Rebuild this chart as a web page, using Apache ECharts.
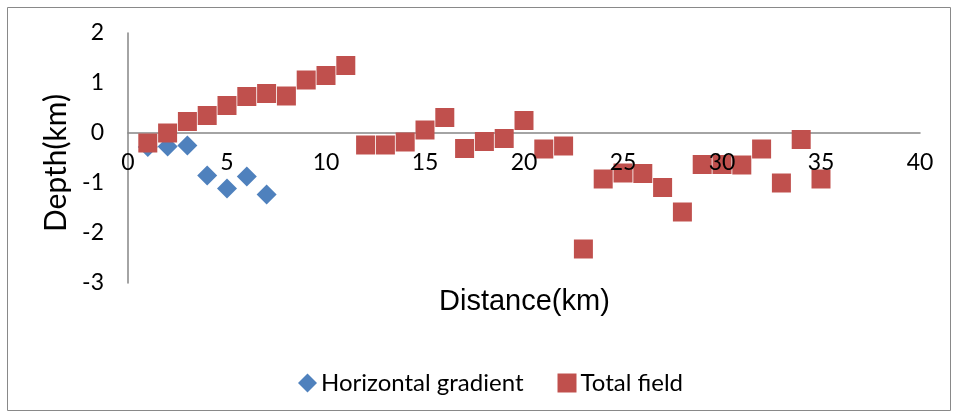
<!DOCTYPE html>
<html>
<head>
<meta charset="utf-8">
<script src="https://cdn.jsdelivr.net/npm/echarts@6/dist/echarts.min.js"></script>
<style>
  html, body { margin: 0; padding: 0; background: #fff; }
  #chart { width: 958px; height: 418px; }
</style>
</head>
<body>
<div id="chart"></div>
<script>
  // distance (km) along the profile
  const gradientDistance = [1, 2, 3, 4, 5, 6, 7];
  const gradientDepth = [-0.28, -0.27, -0.25, -0.85, -1.11, -0.87, -1.23];

  const fieldDistance = [1, 2, 3, 4, 5, 6, 7, 8, 9, 10, 11, 12, 13, 14, 15, 16, 17, 18,
    19, 20, 21, 22, 23, 24, 25, 26, 27, 28, 29, 30, 31, 32, 33, 34, 35];
  const fieldDepth = [-0.2, 0.0, 0.23, 0.35, 0.55, 0.73, 0.79, 0.74, 1.06, 1.15, 1.35,
    -0.24, -0.24, -0.18, 0.06, 0.31, -0.31, -0.17, -0.11, 0.25, -0.32, -0.26,
    -2.32, -0.92, -0.8, -0.81, -1.09, -1.58, -0.63, -0.63, -0.64, -0.32, -1.0, -0.13, -0.92];

  const seriesNames = ["Horizontal gradient", "Total field"];

  function pair(xs, ys) {
    return xs.map((x, i) => [x, ys[i]]);
  }

  const chart = echarts.init(document.getElementById("chart"), null, { renderer: "canvas" });
  const labelFont = "Lato, 'Open Sans', sans-serif";

  chart.setOption({
    animation: false,
    backgroundColor: "#fff",
    grid: { left: 128, right: 38, top: 33, bottom: 135, containLabel: false },
    legend: {
      data: [
        { name: seriesNames[0], icon: "diamond" },
        { name: seriesNames[1], icon: "rect" }
      ],
      left: 293,
      top: 366,
      itemWidth: 19,
      itemHeight: 19,
      itemGap: 34,
      textStyle: { fontFamily: labelFont, fontSize: 24, color: "#000", padding: [0, 0, 0, -1] }
    },
    xAxis: [
      {
        // labels only, above the markers (Excel draws them on top)
        type: "value",
        min: 0,
        max: 40,
        interval: 5,
        z: 5,
        offset: -150,
        axisLine: { show: false, onZero: false },
        axisTick: { show: false },
        splitLine: { show: false },
        axisLabel: { fontFamily: labelFont, fontSize: 23, color: "#000", margin: 18 }
      },
      {
        // the axis line through depth 0, below the markers
        type: "value",
        position: "bottom",
        min: 0,
        max: 40,
        interval: 5,
        z: 0,
        offset: -150,
        axisLine: { onZero: false, lineStyle: { color: "#868686", width: 1.5 } },
        axisTick: { show: false },
        axisLabel: { show: false },
        splitLine: { show: false }
      }
    ],
    yAxis: {
      type: "value",
      min: -3,
      max: 2,
      interval: 1,
      name: "Depth(km)",
      nameLocation: "middle",
      nameGap: 56,
      nameTextStyle: { fontFamily: labelFont, fontSize: 30, color: "#000", padding: [0, 0, 0, -10] },
      axisLine: { show: true, lineStyle: { color: "#868686", width: 1.5 } },
      axisTick: { show: false },
      splitLine: { show: false },
      axisLabel: { fontFamily: labelFont, fontSize: 23, color: "#000", margin: 24 }
    },
    graphic: [
      {
        type: "rect",
        shape: { x: 7.5, y: 7.5, width: 943, height: 403 },
        style: { fill: "none", stroke: "#898989", lineWidth: 1 },
        silent: true
      },
      {
        type: "text",
        left: 439,
        top: 287,
        style: {
          text: "Distance(km)",
          font: "29px 'Liberation Sans', Arial, sans-serif",
          fill: "#000"
        }
      }
    ],
    series: [
      {
        name: seriesNames[0],
        type: "scatter",
        symbol: "diamond",
        symbolSize: 20,
        itemStyle: { color: "#4F81BD", opacity: 1 },
        data: pair(gradientDistance, gradientDepth)
      },
      {
        name: seriesNames[1],
        type: "scatter",
        symbol: "rect",
        symbolSize: 19,
        itemStyle: { color: "#C0504D", opacity: 1 },
        data: pair(fieldDistance, fieldDepth)
      }
    ]
  });
</script>
</body>
</html>
